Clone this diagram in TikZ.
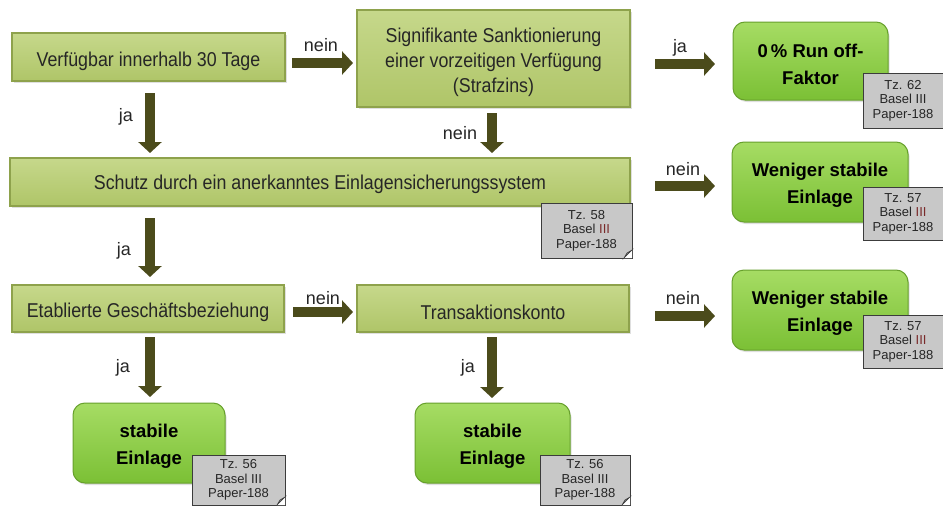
\documentclass[tikz,border=0pt]{standalone}
\usepackage{fontspec}
\setmainfont{Liberation Sans}
\newfontfamily\boxfont[FakeStretch=0.89]{Liberation Sans}
\usetikzlibrary{arrows.meta,shadows,calc}
\definecolor{olivetop}{HTML}{C6D88B}
\definecolor{olivebot}{HTML}{AFC568}
\definecolor{oliveedge}{HTML}{8EA24C}
\definecolor{greentop}{HTML}{A6DC64}
\definecolor{greenbot}{HTML}{7BC035}
\definecolor{greenedge}{HTML}{67A02C}
\definecolor{arrowcol}{HTML}{4B4B1B}
\definecolor{notefill}{HTML}{C8C8C8}
\definecolor{notedraw}{HTML}{3C3C3C}
\definecolor{boxtext}{HTML}{262626}
\definecolor{iiired}{HTML}{7A2A2A}
\begin{document}
\begin{tikzpicture}[x=1pt,y=-1pt,
  obox/.style={rectangle, anchor=north west, inner sep=0pt, outer sep=0pt,
    draw=oliveedge, line width=1.2pt, top color=olivetop, bottom color=olivebot,
    drop shadow={shadow xshift=1.5pt, shadow yshift=-1.5pt, opacity=0.25}},
  obtxt/.style={inner sep=0pt, text=boxtext, font=\boxfont\fontsize{20}{25}\selectfont,
    align=center, yshift=-4pt},
  gbox/.style={rectangle, rounded corners=12pt, anchor=north west, inner sep=0pt, outer sep=0pt,
    draw=greenedge, line width=1pt, top color=greentop, bottom color=greenbot,
    drop shadow={shadow xshift=1.5pt, shadow yshift=-2pt, opacity=0.25}},
  gtxt/.style={inner sep=0pt, text=black, font=\bfseries\fontsize{18.5}{27}\selectfont,
    align=center, yshift=-3pt},
  notebox/.style={rectangle, anchor=north west, inner sep=0pt, outer sep=0pt,
    draw=notedraw, fill=notefill, line width=0.8pt, text=boxtext,
    font=\fontsize{13}{14.5}\selectfont, align=center},
  barrow/.style={draw=arrowcol, line width=10pt, -{Triangle[length=11pt,width=23pt]}},
  lbl/.style={inner sep=0pt, text=boxtext, font=\fontsize{18}{18}\selectfont}
]
\useasboundingbox (0,0) rectangle (943,506);
\clip (0,0) rectangle (943,506);

% decision boxes
\node[obox, minimum width=273pt, minimum height=48pt,
  label={[obtxt]center:{Verfügbar innerhalb 30 Tage}}] (b1) at (12,33) {};
\node[obox, minimum width=273pt, minimum height=97pt,
  label={[obtxt]center:{Signifikante Sanktionierung\\einer vorzeitigen Verfügung\\(Strafzins)}}] (b2) at (357,10) {};
\node[obox, minimum width=620pt, minimum height=48pt,
  label={[obtxt,yshift=2pt]center:{Schutz durch ein anerkanntes Einlagensicherungssystem}}] (b3) at (10,158) {};
\node[obox, minimum width=272pt, minimum height=47pt,
  label={[obtxt]center:{Etablierte Geschäftsbeziehung}}] (b4) at (12,285) {};
\node[obox, minimum width=272pt, minimum height=47pt,
  label={[obtxt]center:{Transaktionskonto}}] (b5) at (357,285) {};

% result boxes
\node[gbox, minimum width=155pt, minimum height=78pt,
  label={[gtxt]center:{0\,\% Run off-\\Faktor}}] (r1) at (733,22) {};
\node[gbox, minimum width=176pt, minimum height=80pt,
  label={[gtxt]center:{Weniger stabile\\Einlage}}] (r2) at (732,142) {};
\node[gbox, minimum width=176pt, minimum height=80pt,
  label={[gtxt]center:{Weniger stabile\\Einlage}}] (r3) at (732,270) {};
\node[gbox, minimum width=152pt, minimum height=80pt,
  label={[gtxt]center:{stabile\\Einlage}}] (r4) at (73,403) {};
\node[gbox, minimum width=155pt, minimum height=80pt,
  label={[gtxt]center:{stabile\\Einlage}}] (r5) at (415,403) {};

% notes
\node[notebox, minimum width=80pt, minimum height=55pt] (n62) at (863,73) {Tz. 62\\Basel III\\Paper-188};
\node[notebox, minimum width=80pt, minimum height=53pt] (n57a) at (863,187) {Tz. 57\\Basel \textcolor{iiired}{III}\\Paper-188};
\node[notebox, minimum width=80pt, minimum height=53pt] (n57b) at (863,315) {Tz. 57\\Basel \textcolor{iiired}{III}\\Paper-188};
\node[notebox, minimum width=91pt, minimum height=55pt] (n58) at (541,203) {Tz. 58\\Basel \textcolor{iiired}{III}\\Paper-188};
\node[notebox, minimum width=93pt, minimum height=50pt] (n56a) at (192,455) {Tz. 56\\Basel III\\Paper-188};
\node[notebox, minimum width=90pt, minimum height=50pt] (n56b) at (540,455) {Tz. 56\\Basel III\\Paper-188};

% folded corners
\foreach \n in {n58,n56a,n56b}{
  \fill[white] (\n.south east) -- ([xshift=-8pt]\n.south east) -- ([yshift=8pt]\n.south east) -- cycle;
  \filldraw[fill=notefill!70!black, draw=notedraw, line width=0.6pt]
    ([xshift=-8pt]\n.south east) -- ([yshift=8pt]\n.south east) -- ([xshift=-5pt,yshift=5pt]\n.south east) -- cycle;
}

% horizontal arrows
\draw[barrow, shorten <=7pt, shorten >=4pt] ([yshift=-6pt]b1.east) -- ([yshift=-6pt]b1.east -| b2.west);
\draw[barrow, shorten <=25pt, shorten >=18pt] ([yshift=-5.5pt]b2.east) -- ([yshift=-5.5pt]b2.east -| r1.west);
\draw[barrow, shorten <=25pt, shorten >=17pt] ([yshift=-4pt]b3.east) -- ([yshift=-4pt]b3.east -| r2.west);
\draw[barrow, shorten <=9pt, shorten >=4pt] ([yshift=-3.5pt]b4.east) -- ([yshift=-3.5pt]b4.east -| b5.west);
\draw[barrow, shorten <=26pt, shorten >=17pt] ([yshift=-7.5pt]b5.east) -- ([yshift=-7.5pt]b5.east -| r3.west);

% vertical arrows
\draw[barrow, shorten <=12pt, shorten >=5pt] ([xshift=1.5pt]b1.south) -- ([xshift=1.5pt]b1.south |- b3.north);
\draw[barrow, shorten <=6pt, shorten >=5pt] ([xshift=-1.5pt]b2.south) -- ([xshift=-1.5pt]b2.south |- b3.north);
\draw[barrow, shorten <=12pt, shorten >=8pt] ([xshift=1.5pt]b1.south |- b3.south) -- ([xshift=1.5pt]b1.south |- b4.north);
\draw[barrow, shorten <=5pt, shorten >=6pt] ([xshift=2pt]b4.south) -- ([xshift=2pt]b4.south |- r4.north);
\draw[barrow, shorten <=5pt, shorten >=5pt] ([xshift=-1pt]b5.south) -- ([xshift=-1pt]b5.south |- r5.north);

% labels
\node[lbl] (l1) at (321,45) {nein};
\node[lbl] (l2) at (126,117) {ja};
\node[lbl] (l3) at (460,133) {nein};
\node[lbl] (l4) at (680,48) {ja};
\node[lbl] (l5) at (683,169) {nein};
\node[lbl] (l6) at (124,251) {ja};
\node[lbl] (l7) at (323,298) {nein};
\node[lbl] (l8) at (683,298) {nein};
\node[lbl] (l9) at (123,368) {ja};
\node[lbl] (l10) at (468,368) {ja};
\end{tikzpicture}
\end{document}
